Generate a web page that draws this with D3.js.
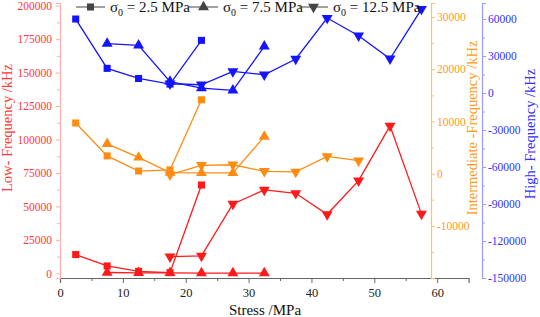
<!DOCTYPE html>
<html>
<head>
<meta charset="utf-8">
<script src="https://cdn.jsdelivr.net/npm/d3@7"></script>
<style>
  body { margin: 0; background: #fff; }
</style>
</head>
<body>
<div id="chart"></div>
<script>

// stress steps shared by every series
const stress = [2.5, 7.5, 12.5, 17.5, 22.5, 27.5, 32.5, 37.5, 42.5, 47.5, 52.5, 57.5];

const legendNames = ["2.5 MPa", "7.5 MPa", "12.5 MPa"];

// low frequency (left axis)
const low25 = [14000, 5500, 1500, 500, 66000, null, null, null, null, null, null, null];
const low75 = [null, 600, 400, 300, 200, 200, 200, null, null, null, null, null];
const low125 = [null, null, null, 12400, 13000, 51800, 62300, 59800, 44100, 69300, 110200, 44400];

// intermediate frequency (orange axis)
const mid25 = [9700, 3400, 500, 700, 14150, null, null, null, null, null, null, null];
const mid75 = [null, 5700, 3100, 200, 130, 130, 7100, null, null, null, null, null];
const mid125 = [null, null, null, -200, 1600, 1700, 450, 350, 3300, 2500, null, null];

// high frequency (blue axis)
const high25 = [60000, 20000, 11800, 7300, 42700, null, null, null, null, null, null, null];
const high75 = [null, 40000, 38600, 9200, 4000, 2100, 37800, null, null, null, null, null];
const high125 = [null, null, null, 7500, 6700, 17500, 14800, 27600, 60800, 46500, 27800, 68100];

const xTicks = [0, 10, 20, 30, 40, 50, 60];
const lowTicks = [0, 25000, 50000, 75000, 100000, 125000, 150000, 175000, 200000];
const midTicks = [-10000, 0, 10000, 20000, 30000];
const highTicks = [-150000, -120000, -90000, -60000, -30000, 0, 30000, 60000];

const serif = "'Liberation Serif', 'DejaVu Serif', serif";

function drawChart(width, height, selector) {

  /////////////////////////////
  //// Dimensions & scales ////
  /////////////////////////////

  let margin = { top: 3, left: 60, right: 71, bottom: 39 };
  let chartHeight = height - margin.top - margin.bottom;

  let xScale = d3.scaleLinear().domain([0, 65]).range([0, 408.6]);
  let yLow = d3.scaleLinear().domain([-3500, 202000]).range([chartHeight, 0]);
  let yMid = d3.scaleLinear().domain([-20000, 32700]).range([chartHeight, 0]);
  let yHigh = d3.scaleLinear().domain([-150000, 73000]).range([chartHeight, 0]);

  let midAxisX = 371;
  let highAxisX = 422;

  let colors = {
    low: "#ff1a1a", lowAxis: "#ffb0b0", lowText: "#ff3838",
    mid: "#ff8c10", midAxis: "#ffc070", midText: "#ff9a20",
    high: "#1414ff", highAxis: "#9a9aff", highText: "#3030ff"
  };

  let svg = d3.select(selector)
    .append("svg")
    .attr("width", width)
    .attr("height", height)
    .attr("font-family", serif);

  let chart = svg.append("g")
    .attr("transform", "translate(" + margin.left + "," + margin.top + ")");

  ////////////////
  //// Axes /////
  ////////////////

  let fmt = d => String(d);

  function styleAxis(g, lineColor, textColor, size) {
    g.attr("font-family", null);
    g.select(".domain").attr("stroke", lineColor).attr("stroke-width", 1.2);
    g.selectAll("line").attr("stroke", lineColor);
    g.selectAll(".tick text").attr("fill", textColor).style("font-size", size + "px");
  }

  // minor ticks drawn as a second axis with no labels
  function minor(axisFn, scale, values, g) {
    g.append("g")
      .call(axisFn(scale).tickValues(values).tickSize(3).tickFormat(""))
      .call(a => a.select(".domain").remove());
  }

  // x axis
  let xAxisG = chart.append("g")
    .attr("transform", "translate(0," + chartHeight + ")");
  xAxisG.call(d3.axisBottom(xScale).tickValues(xTicks).tickSize(5).tickPadding(5.5).tickFormat(fmt));
  minor(d3.axisBottom, xScale, [5, 15, 25, 35, 45, 55], xAxisG);
  styleAxis(xAxisG, "#666", "#222", 12.5);

  // left (low) axis
  let lowAxisG = chart.append("g");
  lowAxisG.call(d3.axisLeft(yLow).tickValues(lowTicks).tickSize(4).tickPadding(4).tickFormat(fmt));
  minor(d3.axisLeft, yLow, d3.range(12500, 200000, 25000), lowAxisG);
  styleAxis(lowAxisG, colors.lowAxis, colors.lowText, 11.5);

  // middle (intermediate) axis
  let midAxisG = chart.append("g")
    .attr("transform", "translate(" + midAxisX + ",0)");
  midAxisG.call(d3.axisRight(yMid).tickValues(midTicks).tickSize(4).tickPadding(2).tickFormat(fmt));
  minor(d3.axisRight, yMid, [-15000, -5000, 5000, 15000, 25000], midAxisG);
  styleAxis(midAxisG, colors.midAxis, colors.midText, 11.5);

  // right (high) axis
  let highAxisG = chart.append("g")
    .attr("transform", "translate(" + highAxisX + ",0)");
  highAxisG.call(d3.axisRight(yHigh).tickValues(highTicks).tickSize(4).tickPadding(2).tickFormat(fmt));
  minor(d3.axisRight, yHigh, [-135000, -105000, -75000, -45000, -15000, 15000, 45000], highAxisG);
  styleAxis(highAxisG, colors.highAxis, colors.highText, 11.5);

  // axis titles
  svg.append("text")
    .attr("transform", "translate(9,128) rotate(-90)")
    .attr("text-anchor", "middle")
    .attr("dominant-baseline", "middle")
    .attr("fill", colors.lowText)
    .style("font-size", "14.5px")
    .text("Low- Frequency /kHz");

  svg.append("text")
    .attr("transform", "translate(474,128) rotate(-90)")
    .attr("text-anchor", "middle")
    .attr("dominant-baseline", "middle")
    .attr("fill", colors.midText)
    .style("font-size", "14.5px")
    .text("Intermediate -Frequency /kHz");

  svg.append("text")
    .attr("transform", "translate(532,134) rotate(-90)")
    .attr("text-anchor", "middle")
    .attr("dominant-baseline", "middle")
    .attr("fill", colors.highText)
    .style("font-size", "14.5px")
    .text("High- Frequency /kHz");

  svg.append("text")
    .attr("x", 265)
    .attr("y", 315)
    .attr("text-anchor", "middle")
    .attr("fill", "#111")
    .style("font-size", "15px")
    .text("Stress /MPa");

  ///////////////////////
  //// Data series /////
  ///////////////////////

  let shapes = [
    { type: d3.symbolSquare, size: 50, rotate: 0 },
    { type: d3.symbolTriangle, size: 52, rotate: 0 },
    { type: d3.symbolTriangle, size: 52, rotate: 180 }
  ];

  let groups = [
    { scale: yHigh, color: colors.high, series: [high25, high75, high125] },
    { scale: yMid, color: colors.mid, series: [mid25, mid75, mid125] },
    { scale: yLow, color: colors.low, series: [low25, low75, low125] }
  ];

  groups.forEach(function(group) {
    group.series.forEach(function(values, i) {
      let points = stress.map((s, j) => ({ x: s, v: values[j] }));

      let line = d3.line()
        .defined(d => d.v != null)
        .x(d => xScale(d.x))
        .y(d => group.scale(d.v));

      chart.append("path")
        .datum(points)
        .attr("fill", "none")
        .attr("stroke", group.color)
        .attr("stroke-width", 1.3)
        .attr("d", line);

      chart.append("g")
        .selectAll("path")
        .data(points.filter(d => d.v != null))
        .join("path")
        .attr("d", d3.symbol().type(shapes[i].type).size(shapes[i].size))
        .attr("transform", d => "translate(" + xScale(d.x) + "," + group.scale(d.v) + ") rotate(" + shapes[i].rotate + ")")
        .attr("fill", group.color);
    });
  });

  ////////////////
  //// Legend ////
  ////////////////

  let legendX = [76, 189, 299];
  let legend = svg.append("g").attr("class", "legend");

  legendNames.forEach(function(name, i) {
    let item = legend.append("g")
      .attr("transform", "translate(" + legendX[i] + ",7)");

    item.append("line")
      .attr("x1", 0).attr("x2", 29)
      .attr("stroke", "#444")
      .attr("stroke-width", 1);

    item.append("path")
      .attr("d", d3.symbol().type(shapes[i].type).size(shapes[i].size))
      .attr("transform", "translate(14.5,0) rotate(" + shapes[i].rotate + ")")
      .attr("fill", "#444");

    let t = item.append("text")
      .attr("x", 34)
      .attr("y", 5)
      .attr("fill", "#111")
      .style("font-size", "15px");
    t.append("tspan").text("\u03c3");
    t.append("tspan").attr("dy", 4).style("font-size", "10px").text("0");
    t.append("tspan").attr("dy", -4).text(" = " + name);
  });

  // make sure every label uses the serif face
  svg.selectAll("text").style("font-family", serif);
}

drawChart(540, 317, "#chart");
</script>
</body>
</html>
